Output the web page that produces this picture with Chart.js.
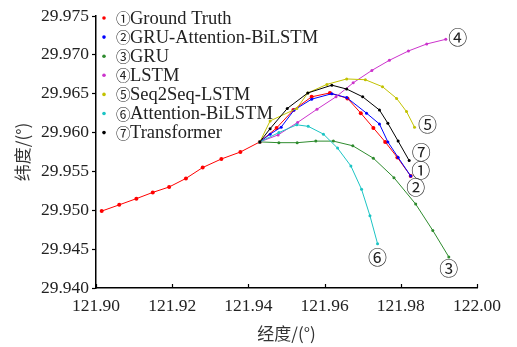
<!DOCTYPE html>
<html lang="zh">
<head>
<meta charset="UTF-8">
<title>轨迹预测对比</title>
<script src="https://cdn.jsdelivr.net/npm/chart.js"></script>
<style>
  html, body { margin: 0; padding: 0; background: #fff; overflow: hidden; }
</style>
</head>
<body>
<canvas id="trackChart" width="517" height="347"></canvas>
<script>
// series names + circled markers
const seriesNames = ['Ground Truth', 'GRU-Attention-BiLSTM', 'GRU', 'LSTM', 'Seq2Seq-LSTM', 'Attention-BiLSTM', 'Transformer'];
const circled = ['①', '②', '③', '④', '⑤', '⑥', '⑦'];

// axis ticks
const lonTicks = [121.90, 121.92, 121.94, 121.96, 121.98, 122.00];
const latTicks = [29.940, 29.945, 29.950, 29.955, 29.960, 29.965, 29.970, 29.975];

// ① Ground Truth
const truthLon = [121.9015, 121.9061, 121.9106, 121.9149, 121.9192, 121.9236, 121.9280, 121.9329, 121.9379, 121.9430,
  121.9474, 121.9518, 121.9566, 121.9614, 121.9660, 121.9695, 121.9728, 121.9759, 121.9791, 121.9826];
const truthLat = [29.9499, 29.9507, 29.9515, 29.9523, 29.9530, 29.9541, 29.9555, 29.9566, 29.9575, 29.9588,
  29.9606, 29.9629, 29.9646, 29.9651, 29.9644, 29.9625, 29.9606, 29.9588, 29.9568, 29.9544];

// ② GRU-Attention-BiLSTM
const gabLon = [121.9430, 121.9457, 121.9486, 121.9520, 121.9566, 121.9619, 121.9658, 121.9710, 121.9744, 121.9766, 121.9793, 121.9826];
const gabLat = [29.9588, 29.9598, 29.9607, 29.9629, 29.9643, 29.9650, 29.9645, 29.9625, 29.9611, 29.9588, 29.9568, 29.9544];

// ③ GRU
const gruLon = [121.9430, 121.9480, 121.9528, 121.9577, 121.9623, 121.9674, 121.9728, 121.9782, 121.9839, 121.9884, 121.9926];
const gruLat = [29.9588, 29.9587, 29.9587, 29.9589, 29.9589, 29.9583, 29.9567, 29.9542, 29.9508, 29.9474, 29.9440];

// ④ LSTM
const lstmLon = [121.9430, 121.9478, 121.9529, 121.9580, 121.9630, 121.9675, 121.9724, 121.9770, 121.9820, 121.9868, 121.9918];
const lstmLat = [29.9588, 29.9597, 29.9613, 29.9630, 29.9646, 29.9664, 29.9680, 29.9693, 29.9705, 29.9714, 29.9720];

// ⑤ Seq2Seq-LSTM
const s2sLon = [121.9430, 121.9457, 121.9527, 121.9556, 121.9606, 121.9658, 121.9707, 121.9752, 121.9789, 121.9815, 121.9836];
const s2sLat = [29.9588, 29.9615, 29.9631, 29.9651, 29.9662, 29.9669, 29.9668, 29.9659, 29.9644, 29.9627, 29.9607];

// ⑥ Attention-BiLSTM
const abLon = [121.9430, 121.9480, 121.9527, 121.9557, 121.9597, 121.9634, 121.9669, 121.9697, 121.9719, 121.9739];
const abLat = [29.9588, 29.9600, 29.9610, 29.9608, 29.9598, 29.9580, 29.9557, 29.9527, 29.9493, 29.9457];

// ⑦ Transformer
const tfLon = [121.9430, 121.9457, 121.9502, 121.9556, 121.9619, 121.9658, 121.9700, 121.9744, 121.9766, 121.9793, 121.9822];
const tfLat = [29.9588, 29.9605, 29.9631, 29.9651, 29.9661, 29.9656, 29.9646, 29.9629, 29.9612, 29.9589, 29.9564];

const lonSeries = [truthLon, gabLon, gruLon, lstmLon, s2sLon, abLon, tfLon];
const latSeries = [truthLat, gabLat, gruLat, lstmLat, s2sLat, abLat, tfLat];

const colors = ['#ff0000', '#0000ff', '#2e8b2e', '#cc33cc', '#c2c200', '#1cc4c4', '#000000'];
// where the circled number sits relative to the last point (px)
const endLabelOffset = [[10, -5], [5, 12], [0, 12], [12, -2], [13, -2], [0, 14], [12, -8]];

const serif = '"Liberation Serif", "Times New Roman", serif';
const cjk = '"Noto Sans CJK SC", sans-serif';

const datasets = seriesNames.map((name, i) => ({
  label: circled[i] + name,
  data: lonSeries[i].map((x, k) => ({ x: x, y: latSeries[i][k] })),
  showLine: true,
  borderColor: colors[i],
  backgroundColor: colors[i],
  borderWidth: 1,
  pointRadius: i === 0 ? 2 : 1.5,
  pointBorderWidth: 0,
  order: 7 - i
}));

// inward ticks on x, legend, end labels
const extras = {
  id: 'extras',
  afterDraw(chart) {
    const ctx = chart.ctx;
    const xs = chart.scales.x;
    const area = chart.chartArea;
    ctx.save();
    ctx.strokeStyle = '#000';
    ctx.lineWidth = 1.2;
    lonTicks.forEach(v => {
      const px = Math.round(xs.getPixelForValue(v)) + 0.5;
      ctx.beginPath();
      ctx.moveTo(px, area.bottom);
      ctx.lineTo(px, area.bottom - 4);
      ctx.stroke();
    });

    // legend
    ctx.textBaseline = 'middle';
    ctx.textAlign = 'left';
    seriesNames.forEach((name, i) => {
      const y = 18 + i * 19.1;
      ctx.fillStyle = colors[i];
      ctx.beginPath();
      ctx.arc(104, y, 1.8, 0, Math.PI * 2);
      ctx.fill();
      ctx.fillStyle = '#222';
      ctx.font = '14.5px ' + cjk;
      ctx.fillText(circled[i], 116, y + 0.5);
      ctx.font = '18.5px ' + serif;
      ctx.fillText(name, 130, y + 1);
    });

    // circled numbers at track ends
    ctx.textAlign = 'center';
    ctx.font = '19px ' + cjk;
    ctx.fillStyle = '#222';
    chart.data.datasets.forEach((ds, i) => {
      const meta = chart.getDatasetMeta(i);
      const last = meta.data[meta.data.length - 1];
      ctx.fillText(circled[i], last.x + endLabelOffset[i][0], last.y + endLabelOffset[i][1]);
    });
    ctx.restore();
  }
};

new Chart(document.getElementById('trackChart'), {
  type: 'scatter',
  data: { datasets: datasets },
  options: {
    responsive: false,
    animation: false,
    layout: { padding: { top: 16, right: 40, left: 0, bottom: 0 } },
    plugins: {
      legend: { display: false },
      tooltip: { enabled: false }
    },
    scales: {
      x: {
        type: 'linear',
        min: 121.90,
        max: 122.00,
        afterFit: s => { s.height = 59; },
        afterBuildTicks: s => { s.ticks = lonTicks.map(v => ({ value: v })); },
        ticks: {
          padding: 8,
          color: '#222',
          font: { family: serif, size: 17.5 },
          callback: v => v.toFixed(2)
        },
        grid: { drawOnChartArea: false, drawTicks: false },
        border: { display: true, color: '#000', width: 1.5 },
        title: {
          display: true,
          text: '经度/(°)',
          color: '#333',
          font: { family: cjk, size: 17 },
          padding: { top: 0, bottom: 3 }
        }
      },
      y: {
        type: 'linear',
        min: 29.940,
        max: 29.975,
        afterFit: s => { s.width = 96; },
        afterBuildTicks: s => { s.ticks = latTicks.map(v => ({ value: v })); },
        ticks: {
          padding: 3,
          color: '#222',
          font: { family: serif, size: 17.5 },
          callback: v => v.toFixed(3)
        },
        grid: { drawOnChartArea: false, drawTicks: true, tickLength: 4, color: '#000', tickWidth: 1.2 },
        border: { display: true, color: '#000', width: 1.5 },
        title: {
          display: true,
          text: '纬度/(°)',
          color: '#333',
          font: { family: cjk, size: 17 },
          padding: { top: 12, bottom: 0 }
        }
      }
    }
  },
  plugins: [extras]
});
</script>
</body>
</html>
